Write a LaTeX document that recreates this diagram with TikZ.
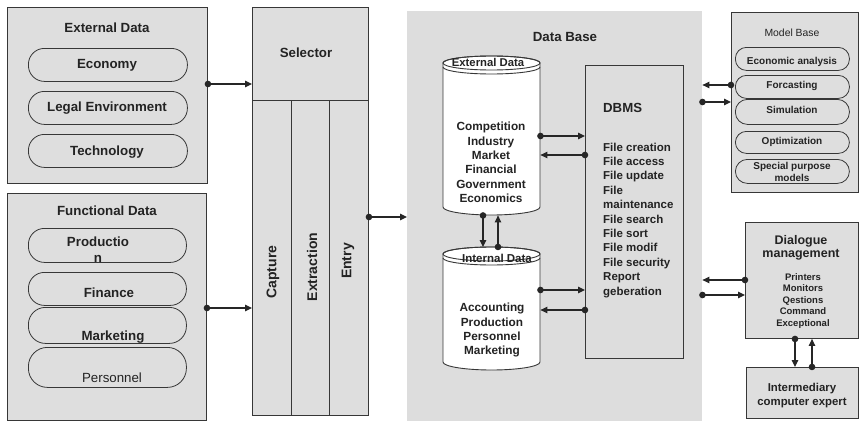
\documentclass[tikz,border=0pt]{standalone}
\usepackage{fontspec}
\setmainfont{Liberation Sans}
\usetikzlibrary{arrows.meta}
\definecolor{boxgray}{RGB}{222,222,222}
\definecolor{dbgray}{RGB}{221,221,221}
\definecolor{edge}{RGB}{55,55,55}
\definecolor{txtcol}{RGB}{35,35,35}
\newcommand{\myfs}[2]{\fontsize{#1}{#2}\selectfont}
\begin{document}
\begin{tikzpicture}[x=1pt,y=-1pt,
 box/.style={draw=edge, fill=boxgray, line width=0.9pt, inner sep=0pt, anchor=north west},
 pill/.style={draw=edge, line width=0.8pt, inner sep=0pt, anchor=north west},
 txt/.style={font=\bfseries\myfs{13.3}{15}, text=txtcol, inner sep=0pt},
 smtxt/.style={font=\bfseries\myfs{10}{11}, text=txtcol, inner sep=0pt, align=center},
 cyltxt/.style={font=\bfseries\myfs{11.8}{14.4}, text=txtcol, inner sep=0pt, align=center},
 dbtxt/.style={font=\bfseries\myfs{11.5}{14.4}, text=txtcol, inner sep=0pt, anchor=base west},
 cyl/.style={draw=edge, line width=0.9pt, fill=white},
 con/.style={draw=black!85, line width=1.1pt, shorten <=-3.2pt, {Circle[length=6.5pt]}-{Triangle[length=7pt,width=6.5pt]}},
]
\useasboundingbox (0,0) rectangle (860,423);
\fill[white] (0,0) rectangle (860,423);

% External Data
\node[box, minimum width=200pt, minimum height=176pt] (extbox) at (7,7) {};
\node[txt] at (107,28) {External Data};
\node[pill, minimum width=159pt, minimum height=33pt, rounded corners=16pt] (economy) at (28,48) {};
\node[txt] at (107,65) {Economy};
\node[pill, minimum width=159pt, minimum height=33pt, rounded corners=16pt] (legal) at (28,91) {};
\node[txt] at (107,108) {Legal Environment};
\node[pill, minimum width=159pt, minimum height=33pt, rounded corners=16pt] (tech) at (28,134) {};
\node[txt] at (107,152) {Technology};

% Functional Data
\node[box, minimum width=199pt, minimum height=227pt] (funcbox) at (7,193) {};
\node[txt] at (107,211) {Functional Data};
\node[pill, minimum width=158pt, minimum height=34pt, rounded corners=16pt] (prod) at (28,228) {};
\node[txt, align=center, font=\bfseries\myfs{13.3}{16}] at (98,250) {Productio\\n};
\node[pill, minimum width=158pt, minimum height=33pt, rounded corners=16pt] (fin) at (28,272) {};
\node[txt] at (109,293) {Finance};
\node[pill, minimum width=158pt, minimum height=36pt, rounded corners=17pt] (mkt) at (28,307) {};
\node[txt] at (113,337) {Marketing};
\node[pill, minimum width=158pt, minimum height=40pt, rounded corners=19pt] (pers) at (28,347) {};
\node[txt, font=\myfs{13.3}{15}] at (112,378) {Personnel};

% Selector
\node[box, minimum width=116pt, minimum height=93pt] (selector) at (252,7) {};
\node[txt] at (306,53) {Selector};
\node[box, minimum width=39pt, minimum height=315pt] (capture) at (252,100) {};
\node[box, minimum width=38pt, minimum height=315pt] (extraction) at (291,100) {};
\node[box, minimum width=39pt, minimum height=315pt] (entry) at (329,100) {};
\node[txt, rotate=90, font=\bfseries\myfs{14}{15}] at (273,272) {Capture};
\node[txt, rotate=90, font=\bfseries\myfs{14}{15}] at (312,267) {Extraction};
\node[txt, rotate=90, font=\bfseries\myfs{14}{15}] at (348,261) {Entry};

% Data Base area
\node[fill=dbgray, inner sep=0pt, anchor=north west, minimum width=295pt, minimum height=410pt] (dbarea) at (407,11) {};
\node[txt] at (565,37) {Data Base};

% External data cylinder
\path[cyl] (443,63) -- (443,207) arc[start angle=180, end angle=360, x radius=48.5pt, y radius=8pt] -- (540,63) arc[start angle=0, end angle=180, x radius=48.5pt, y radius=7pt] -- cycle;
\draw[edge, line width=0.9pt] (491.5,63) ellipse[x radius=48.5pt, y radius=7pt];
\draw[edge, line width=0.9pt] (443,67) arc[start angle=180, end angle=360, x radius=48.5pt, y radius=7pt];
\node[inner sep=0pt, anchor=north west, minimum width=97pt, minimum height=159pt] (extcyl) at (443,56) {};
\node[cyltxt, font=\bfseries\myfs{11.3}{13}] at (488,62) {External Data};
\node[cyltxt, anchor=north] at (491,122) {Competition\\Industry\\Market\\Financial\\Government\\Economics};

% Internal data cylinder
\path[cyl] (443,254) -- (443,362) arc[start angle=180, end angle=360, x radius=48.5pt, y radius=8pt] -- (540,254) arc[start angle=0, end angle=180, x radius=48.5pt, y radius=7pt] -- cycle;
\draw[edge, line width=0.9pt] (491.5,254) ellipse[x radius=48.5pt, y radius=7pt];
\draw[edge, line width=0.9pt] (443,258) arc[start angle=180, end angle=360, x radius=48.5pt, y radius=7pt];
\node[inner sep=0pt, anchor=north west, minimum width=97pt, minimum height=123pt] (intcyl) at (443,247) {};
\node[cyltxt, font=\bfseries\myfs{11.5}{13}] at (497,258) {Internal Data};
\node[cyltxt, anchor=north] at (492,303) {Accounting\\Production\\Personnel\\Marketing};

% DBMS
\node[box, fill=dbgray, minimum width=98pt, minimum height=293pt] (dbms) at (585,65) {};
\node[txt, anchor=west, font=\bfseries\myfs{13.2}{15}] at (603,108) {DBMS};
\foreach \t [count=\i from 0] in {File creation, File access, File update, File, maintenance, File search, File sort, File modif, File security, Report, geberation}
  \node[dbtxt] at (603,{151+14.4*\i}) {\t};

% Model Base
\node[box, minimum width=127pt, minimum height=180pt] (modelbase) at (731,12) {};
\node[txt, font=\myfs{10.4}{12}] at (792,33) {Model Base};
\node[pill, minimum width=114pt, minimum height=23pt, rounded corners=11pt] (econ) at (735,47) {};
\node[smtxt] at (792,62) {Economic analysis};
\node[pill, minimum width=114pt, minimum height=23pt, rounded corners=11pt] (forc) at (735,75) {};
\node[smtxt] at (792,86) {Forcasting};
\node[pill, minimum width=114pt, minimum height=25pt, rounded corners=12pt] (simu) at (735,99) {};
\node[smtxt] at (792,110) {Simulation};
\node[pill, minimum width=114pt, minimum height=22pt, rounded corners=11pt] (optim) at (735,131) {};
\node[smtxt] at (792,142) {Optimization};
\node[pill, minimum width=114pt, minimum height=24pt, rounded corners=12pt] (special) at (735,159) {};
\node[smtxt, font=\bfseries\myfs{10}{12.5}] at (792,172) {Special purpose\\models};

% Dialogue management
\node[box, minimum width=113pt, minimum height=116pt] (dialogue) at (745,222) {};
\node[txt, align=center, font=\bfseries\myfs{12.5}{12.5}] at (801,248) {Dialogue\\management};
\node[txt, align=center, font=\bfseries\myfs{9.5}{11.5}, anchor=north] at (803,273) {Printers\\Monitors\\Qestions\\Command\\Exceptional};

% Intermediary
\node[box, minimum width=112pt, minimum height=51pt] (interm) at (746,367) {};
\node[txt, align=center, font=\bfseries\myfs{11.4}{14}] at (802,396) {Intermediary\\computer expert};

% Connectors
\draw[con] (extbox.east |- 0,84) -- (selector.west |- 0,84);
\draw[con] (funcbox.east |- 0,308) -- (capture.west |- 0,308);
\draw[con] (entry.east |- 0,217) -- (dbarea.west |- 0,217);
\draw[con] (extcyl.east |- 0,136) -- (dbms.west |- 0,136);
\draw[con] (dbms.west |- 0,155) -- (extcyl.east |- 0,155);
\draw[con] (483,0 |- extcyl.south) -- (483,0 |- intcyl.north);
\draw[con] (498,0 |- intcyl.north) -- (498,0 |- extcyl.south);
\draw[con] (intcyl.east |- 0,290) -- (dbms.west |- 0,290);
\draw[con] (dbms.west |- 0,310) -- (intcyl.east |- 0,310);
\draw[con] (modelbase.west |- 0,85) -- (dbarea.east |- 0,85);
\draw[con] (dbarea.east |- 0,102) -- (modelbase.west |- 0,102);
\draw[con] (dialogue.west |- 0,280) -- (dbarea.east |- 0,280);
\draw[con] (dbarea.east |- 0,295) -- (dialogue.west |- 0,295);
\draw[con] (795,0 |- dialogue.south) -- (795,0 |- interm.north);
\draw[con] (812,0 |- interm.north) -- (812,0 |- dialogue.south);
\end{tikzpicture}
\end{document}
